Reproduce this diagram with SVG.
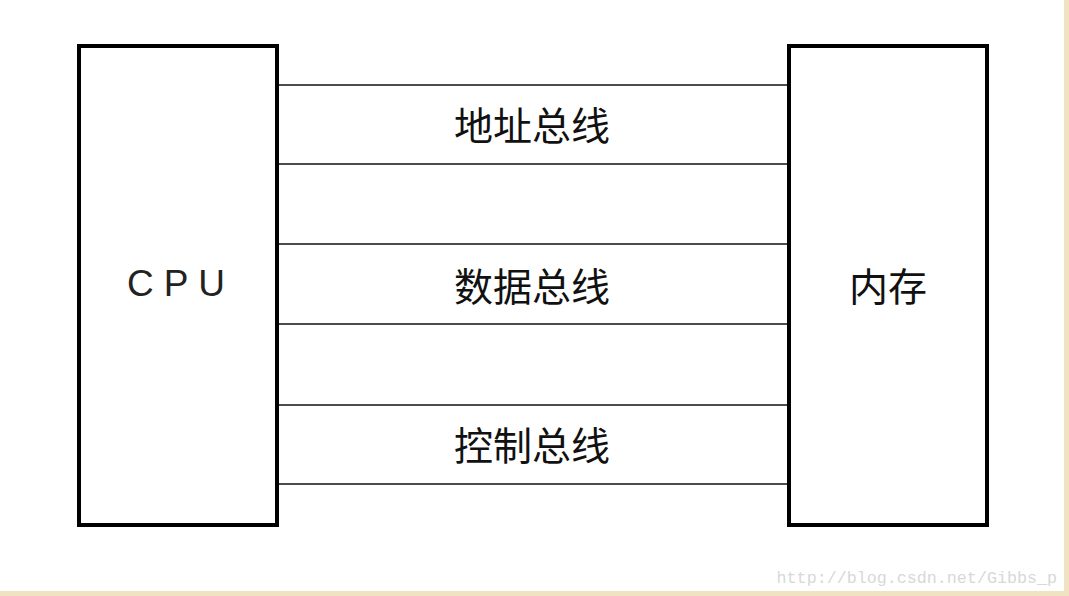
<svg xmlns="http://www.w3.org/2000/svg" width="1069" height="596" viewBox="0 0 1069 596">
<style>
.box{fill:#fff;stroke:#000;stroke-width:4}
.bus{stroke:#111;stroke-width:1.6}
.lbl{font-family:"Noto Sans CJK SC",sans-serif;font-size:39px;fill:#111;text-anchor:middle}
</style>
<rect width="1069" height="596" fill="#efe3c2"/>
<rect x="0" y="0" width="1064" height="591" fill="#fff"/>
<g id="connectors">
<line class="bus" x1="277" y1="85" x2="789" y2="85"/>
<line class="bus" x1="277" y1="164" x2="789" y2="164"/>
<line class="bus" x1="277" y1="244" x2="789" y2="244"/>
<line class="bus" x1="277" y1="324" x2="789" y2="324"/>
<line class="bus" x1="277" y1="405" x2="789" y2="405"/>
<line class="bus" x1="277" y1="484" x2="789" y2="484"/>
<text class="lbl" x="532" y="140">地址总线</text>
<text class="lbl" x="532" y="301">数据总线</text>
<text class="lbl" x="532" y="460">控制总线</text>
</g>
<g id="cpu">
<rect class="box" x="79" y="46" width="198" height="479"/>
<text x="181" y="296" font-family="Liberation Sans,sans-serif" font-size="37" letter-spacing="10" text-anchor="middle" fill="#222">CPU</text>
</g>
<g id="mem">
<rect class="box" x="789" y="46" width="198" height="479"/>
<text class="lbl" x="888" y="301">内存</text>
</g>
<text x="1057" y="583" font-family="Liberation Mono,monospace" font-size="16.7" fill="#d8d8d8" text-anchor="end">http://blog.csdn.net/Gibbs_p</text>
</svg>
